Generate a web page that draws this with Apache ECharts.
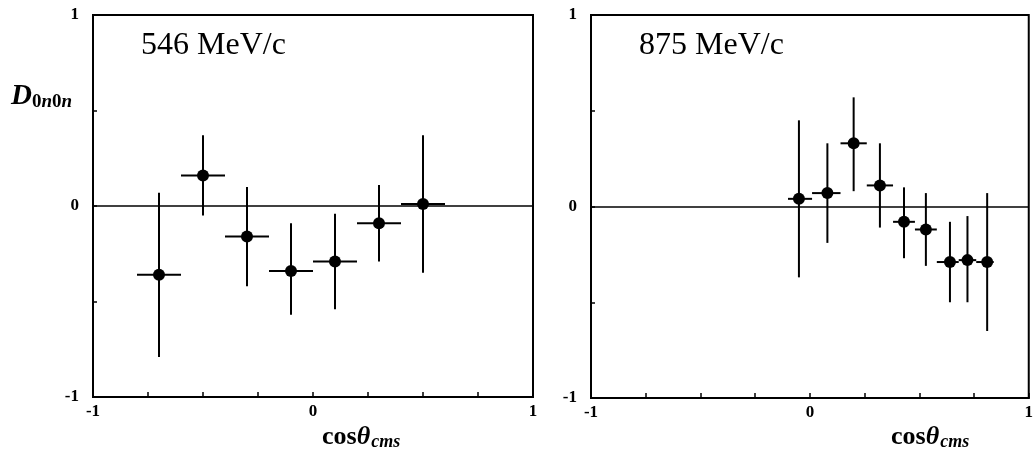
<!DOCTYPE html>
<html>
<head>
<meta charset="utf-8">
<script src="https://cdn.jsdelivr.net/npm/echarts@6/dist/echarts.min.js"></script>
<style>
  html, body { margin: 0; padding: 0; background: #fff; }
  #chart { width: 1036px; height: 463px; }
</style>
</head>
<body>
<div id="chart"></div>
<script>
// 546 MeV/c panel
var x546 = [-0.70, -0.50, -0.30, -0.10, 0.10, 0.30, 0.50];
var y546 = [-0.36, 0.16, -0.16, -0.34, -0.29, -0.09, 0.01];
var xLo546 = [-0.80, -0.60, -0.40, -0.20, 0.00, 0.20, 0.40];
var xHi546 = [-0.60, -0.40, -0.20, 0.00, 0.20, 0.40, 0.60];
var yLo546 = [-0.79, -0.05, -0.42, -0.57, -0.54, -0.29, -0.35];
var yHi546 = [0.07, 0.37, 0.10, -0.09, -0.04, 0.11, 0.37];

// 875 MeV/c panel
var x875 = [-0.05, 0.08, 0.20, 0.32, 0.43, 0.53, 0.64, 0.72, 0.81];
var y875 = [0.04, 0.07, 0.33, 0.11, -0.08, -0.12, -0.29, -0.28, -0.29];
var xLo875 = [-0.10, 0.01, 0.14, 0.26, 0.38, 0.48, 0.58, 0.68, 0.76];
var xHi875 = [0.01, 0.14, 0.26, 0.38, 0.48, 0.58, 0.68, 0.76, 0.84];
var yLo875 = [-0.37, -0.19, 0.08, -0.11, -0.27, -0.31, -0.50, -0.50, -0.65];
var yHi875 = [0.45, 0.33, 0.57, 0.33, 0.10, 0.07, -0.08, -0.05, 0.07];

var panelTitles = ['546 MeV/c', '875 MeV/c'];
var axisTicks = [-1, 0, 1];

var serif = '"Liberation Serif", "DejaVu Serif", serif';

var chart = echarts.init(document.getElementById('chart'));

function errData(xs, ys, xl, xh, yl, yh) {
  return xs.map(function (x, i) {
    return [x, ys[i], xl[i], xh[i], yl[i], yh[i]];
  });
}

function renderErr(params, api) {
  var l = api.coord([api.value(2), api.value(1)]);
  var r = api.coord([api.value(3), api.value(1)]);
  var lo = api.coord([api.value(0), api.value(4)]);
  var hi = api.coord([api.value(0), api.value(5)]);
  var st = { stroke: '#000', lineWidth: 2 };
  return {
    type: 'group',
    children: [
      { type: 'line', shape: { x1: l[0], y1: l[1], x2: r[0], y2: r[1] }, style: st },
      { type: 'line', shape: { x1: lo[0], y1: lo[1], x2: hi[0], y2: hi[1] }, style: st }
    ]
  };
}

function labelFmt(v) {
  return axisTicks.indexOf(Math.round(v * 100) / 100) >= 0 ? String(Math.round(v)) : '';
}

function xAxisCfg(idx) {
  return {
    gridIndex: idx, type: 'value', min: -1, max: 1, interval: 0.25,
    axisLine: { onZero: false, lineStyle: { color: '#000', width: 2 } },
    axisTick: { inside: true, length: 5, lineStyle: { color: '#000', width: 1.5 } },
    axisLabel: { formatter: labelFmt, color: '#000', fontFamily: serif, fontWeight: 'bold', fontSize: 17, margin: 6 },
    splitLine: { show: false }
  };
}
function yAxisCfg(idx) {
  return {
    gridIndex: idx, type: 'value', min: -1, max: 1, interval: 0.5,
    axisLine: { onZero: false, lineStyle: { color: '#000', width: 2 } },
    axisTick: { inside: true, length: 4, lineStyle: { color: '#000', width: 1.5 } },
    axisLabel: { formatter: labelFmt, color: '#000', fontFamily: serif, fontWeight: 'bold', fontSize: 17, margin: 14 },
    splitLine: { show: false }
  };
}

var zeroLine = {
  silent: true, symbol: 'none', label: { show: false },
  lineStyle: { color: '#000', width: 1.5, type: 'solid' },
  data: [{ yAxis: 0 }]
};

function cosLabel(left) {
  return {
    type: 'text', left: left, top: 424,
    style: {
      text: '{c|cos}{t|θ}{s|cms}',
      rich: {
        c: { fontFamily: serif, fontWeight: 'bold', fontSize: 26, fill: '#000' },
        t: { fontFamily: serif, fontStyle: 'italic', fontWeight: 'bold', fontSize: 26, fill: '#000' },
        s: { fontFamily: serif, fontStyle: 'italic', fontWeight: 'bold', fontSize: 18, fill: '#000', padding: [10, 0, 0, 1] }
      }
    }
  };
}

var titleStyle = { fontFamily: serif, fontWeight: 'normal', fontSize: 32, color: '#000' };

var option = {
  animation: false,
  backgroundColor: '#fff',
  grid: [
    { left: 93, top: 15, width: 440, height: 382, show: true, borderColor: '#000', borderWidth: 2 },
    { left: 591, top: 15, width: 441, height: 383, show: true, borderColor: '#000', borderWidth: 2 }
  ],
  title: [
    { text: panelTitles[0], left: 136, top: 25, textStyle: titleStyle },
    { text: panelTitles[1], left: 634, top: 25, textStyle: titleStyle }
  ],
  xAxis: [xAxisCfg(0), xAxisCfg(1)],
  yAxis: [yAxisCfg(0), yAxisCfg(1)],
  graphic: [
    {
      type: 'text', left: 11, top: 82,
      style: {
        text: '{d|D}{z|0}{n|n}{z|0}{n|n}',
        rich: {
          d: { fontFamily: serif, fontStyle: 'italic', fontWeight: 'bold', fontSize: 29, fill: '#000' },
          z: { fontFamily: serif, fontWeight: 'bold', fontSize: 19, fill: '#000', padding: [12, 0, 0, 0] },
          n: { fontFamily: serif, fontStyle: 'italic', fontWeight: 'bold', fontSize: 19, fill: '#000', padding: [12, 0, 0, 0] }
        }
      }
    },
    cosLabel(322),
    cosLabel(891)
  ],
  series: [
    {
      type: 'custom', xAxisIndex: 0, yAxisIndex: 0, renderItem: renderErr,
      data: errData(x546, y546, xLo546, xHi546, yLo546, yHi546),
      markLine: zeroLine, z: 3
    },
    {
      type: 'scatter', xAxisIndex: 0, yAxisIndex: 0, symbol: 'circle', symbolSize: 12,
      itemStyle: { color: '#000', opacity: 1 },
      data: x546.map(function (x, i) { return [x, y546[i]]; }), z: 4
    },
    {
      type: 'custom', xAxisIndex: 1, yAxisIndex: 1, renderItem: renderErr,
      data: errData(x875, y875, xLo875, xHi875, yLo875, yHi875),
      markLine: zeroLine, z: 3
    },
    {
      type: 'scatter', xAxisIndex: 1, yAxisIndex: 1, symbol: 'circle', symbolSize: 12,
      itemStyle: { color: '#000', opacity: 1 },
      data: x875.map(function (x, i) { return [x, y875[i]]; }), z: 4
    }
  ]
};

chart.setOption(option);
</script>
</body>
</html>
